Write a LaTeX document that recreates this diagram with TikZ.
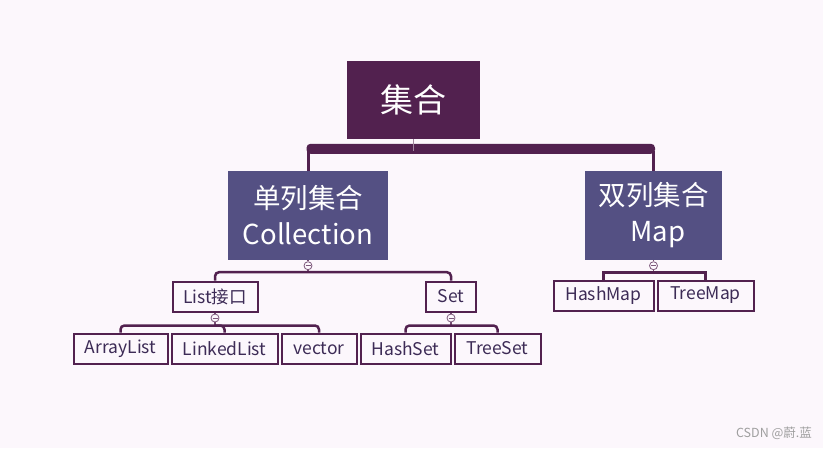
\documentclass[tikz,border=0pt]{standalone}
\usepackage{fontspec}
\setmainfont{Noto Sans CJK SC}
\usetikzlibrary{calc}
\definecolor{bg}{HTML}{FCF7FC}
\definecolor{rootc}{HTML}{52214F}
\definecolor{midc}{HTML}{545083}
\definecolor{txt}{HTML}{3D2B56}
\begin{document}
\begin{tikzpicture}[x=1pt,y=-1pt,
  rootbox/.style={fill=rootc,text=white,minimum width=133pt,minimum height=78pt,inner sep=0pt,font=\fontsize{33}{36}\selectfont},
  midbox/.style={fill=midc,text=white,minimum height=89pt,inner sep=0pt,align=center,font=\fontsize{27.5}{36}\selectfont},
  leaf/.style={draw=rootc,line width=2pt,fill=bg,text=txt,minimum height=30pt,inner sep=0pt,font=\fontsize{17.5}{18}\selectfont},
  knob/.style={circle,draw=rootc!75,fill=bg,line width=0.8pt,minimum size=8pt,inner sep=0pt,
    path picture={\draw[rootc!75,line width=0.8pt] ([xshift=-2.5pt]path picture bounding box.center) -- ([xshift=2.5pt]path picture bounding box.center);}},
  stem/.style={draw=rootc!80,line width=1.3pt},
  bar/.style={draw=rootc,line width=2.5pt,rounded corners=4pt}
]
\fill[bg] (0,0) rectangle (823,448);
\useasboundingbox (0,0) rectangle (823,448);

\node[rootbox] (root) at (413.5,100) {集合};
\node[midbox,minimum width=160pt] (coll) at (308,215.5) {单列集合\\Collection};
\node[midbox,minimum width=137pt] (map) at (653.5,215.5) {双列集合\\\hspace*{0.3em}Map};

\node[leaf,minimum width=85pt] (list) at (215,296.5) {List接口};
\node[leaf,minimum width=50pt] (set) at (451,296.5) {Set};
\node[leaf,minimum width=94pt] (arr) at (120.5,348.5) {ArrayList};
\node[leaf,minimum width=106pt] (linked) at (224.5,348.5) {LinkedList};
\node[leaf,minimum width=75pt] (vec) at (319,348.5) {vector};
\node[leaf,minimum width=90pt] (hset) at (405.5,348.5) {HashSet};
\node[leaf,minimum width=86pt] (tset) at (497.5,348.5) {TreeSet};
\node[leaf,minimum width=100pt] (hmap) at (603.5,295.5) {HashMap};
\node[leaf,minimum width=96pt] (tmap) at (705.5,295.5) {TreeMap};

% top bracket
\fill[rootc,rounded corners=4pt] ($(coll.north)+(-1.5,-17)$) -- ($(coll.north)+(-1.5,-27)$) -- ($(map.north)+(1.5,-27)$) -- ($(map.north)+(1.5,-17)$) -- cycle;
\draw[rootc,line width=3pt] ($(coll.north)+(0,-20)$) -- (coll.north);
\draw[rootc,line width=3pt] ($(map.north)+(0,-20)$) -- (map.north);
\draw[rootc!55!white,line width=1pt] (root.south) -- ($(root.south)+(0,12)$);

% collection children
\node[knob] (k1) at ($(coll.south)+(0,5.5)$) {};
\draw[stem] (coll.south) -- (k1.north);
\coordinate (b1) at ($(coll.south)+(0,12)$);
\draw[stem] (k1.south) -- (b1);
\draw[bar] (list.north) |- (b1) -| (set.north);

% list children
\node[knob] (k2) at ($(list.south)+(0,5.5)$) {};
\draw[stem] (list.south) -- (k2.north);
\coordinate (b2) at ($(list.south)+(0,13)$);
\draw[stem] (k2.south) -- (b2);
\draw[bar] (arr.north) |- (b2) -| (vec.north);
\draw[bar] (linked.north) |- (b2);

% set children
\node[knob] (k3) at ($(set.south)+(0,5.5)$) {};
\draw[stem] (set.south) -- (k3.north);
\coordinate (b3) at ($(set.south)+(0,13)$);
\draw[stem] (k3.south) -- (b3);
\draw[bar] (hset.north) |- (b3) -| (tset.north);

% map children
\node[knob] (k4) at ($(map.south)+(0,5.5)$) {};
\draw[stem] (map.south) -- (k4.north);
\coordinate (b4) at ($(map.south)+(0,12.5)$);
\draw[stem] (k4.south) -- (b4);
\draw[bar,sharp corners] (hmap.north) |- (b4) -| (tmap.north);

\node[text=gray!75,font=\fontsize{12.5}{13}\selectfont] (wm) at (774,433) {CSDN @蔚.蓝};
\end{tikzpicture}
\end{document}
